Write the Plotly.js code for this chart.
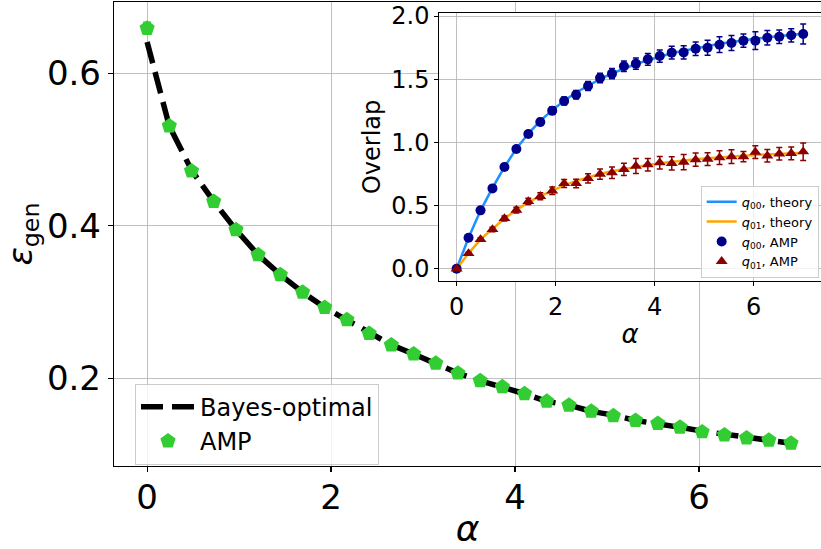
<!DOCTYPE html>
<html>
<head>
<meta charset="utf-8">
<script src="https://cdn.plot.ly/plotly-3.0.1.min.js"></script>
<style>html,body{margin:0;padding:0;background:#fff;}#chart{width:821px;height:549px;}</style>
</head>
<body>
<div id="chart"></div>
<script>
// ---------- data ----------
const alpha = [0, 0.241, 0.483, 0.724, 0.966, 1.207, 1.448, 1.69, 1.931, 2.172,
  2.414, 2.655, 2.897, 3.138, 3.379, 3.621, 3.862, 4.103, 4.345, 4.586,
  4.828, 5.069, 5.31, 5.552, 5.793, 6.034, 6.276, 6.517, 6.759, 7.0];

// main panel
const egenBayes = [0.641, 0.531, 0.473, 0.432, 0.395, 0.362, 0.336, 0.313, 0.293, 0.277,
  0.260, 0.244, 0.232, 0.220, 0.207, 0.197, 0.189, 0.180, 0.170, 0.165,
  0.157, 0.152, 0.145, 0.141, 0.136, 0.131, 0.127, 0.122, 0.119, 0.115];
const egenAMP = [0.659, 0.531, 0.472, 0.432, 0.395, 0.362, 0.336, 0.313, 0.293, 0.277,
  0.259, 0.244, 0.232, 0.220, 0.207, 0.197, 0.189, 0.180, 0.170, 0.165,
  0.157, 0.151, 0.145, 0.141, 0.136, 0.130, 0.126, 0.122, 0.119, 0.115];
const egenAMPerr = [0.008, 0.005, 0.005, 0.005, 0.004, 0.004, 0.004, 0.004, 0.004, 0.004,
  0.004, 0.004, 0.004, 0.004, 0.004, 0.004, 0.004, 0.004, 0.004, 0.004,
  0.004, 0.004, 0.004, 0.004, 0.004, 0.004, 0.004, 0.004, 0.004, 0.004];

// inset
const q00Theory = [0, 0.245, 0.46, 0.64, 0.805, 0.95, 1.07, 1.17, 1.255, 1.33,
  1.395, 1.45, 1.5, 1.545, 1.585, 1.62, 1.65, 1.68, 1.705, 1.725,
  1.745, 1.765, 1.78, 1.795, 1.81, 1.82, 1.832, 1.842, 1.852, 1.86];
const q01Theory = [0, 0.122, 0.232, 0.315, 0.398, 0.465, 0.525, 0.575, 0.62, 0.66,
  0.695, 0.725, 0.75, 0.772, 0.79, 0.807, 0.822, 0.835, 0.847, 0.857,
  0.866, 0.874, 0.882, 0.889, 0.895, 0.9, 0.905, 0.91, 0.914, 0.918];
const q00AMP = [0, 0.245, 0.462, 0.636, 0.805, 0.947, 1.066, 1.161, 1.251, 1.327,
  1.377, 1.446, 1.509, 1.544, 1.602, 1.623, 1.657, 1.683, 1.710, 1.712,
  1.741, 1.749, 1.773, 1.786, 1.805, 1.805, 1.828, 1.836, 1.847, 1.858];
const q00Err = [0.005, 0.01, 0.014, 0.018, 0.02, 0.022, 0.025, 0.028, 0.03, 0.032,
  0.034, 0.036, 0.038, 0.04, 0.042, 0.044, 0.046, 0.048, 0.05, 0.052,
  0.054, 0.059, 0.062, 0.059, 0.053, 0.07, 0.057, 0.053, 0.053, 0.079];
const q01AMP = [0, 0.121, 0.232, 0.311, 0.398, 0.464, 0.533, 0.573, 0.617, 0.675,
  0.675, 0.715, 0.749, 0.760, 0.786, 0.813, 0.823, 0.839, 0.834, 0.844,
  0.863, 0.868, 0.879, 0.887, 0.887, 0.923, 0.894, 0.910, 0.913, 0.926];
const q01Err = [0.005, 0.01, 0.014, 0.018, 0.02, 0.022, 0.025, 0.028, 0.03, 0.032,
  0.034, 0.036, 0.04, 0.045, 0.048, 0.06, 0.05, 0.05, 0.052, 0.06,
  0.052, 0.05, 0.055, 0.055, 0.04, 0.05, 0.05, 0.05, 0.05, 0.069];

const mainTicksX = [0, 2, 4, 6];
const mainTicksY = [0.2, 0.4, 0.6];
const mainTickTextY = ['0.2', '0.4', '0.6'];
const insetTicksX = [0, 2, 4, 6];
const insetTicksY = [0, 0.5, 1.0, 1.5, 2.0];
const insetTickTextY = ['0.0', '0.5', '1.0', '1.5', '2.0'];

// ---------- traces ----------
const FONT = 'DejaVu Sans, sans-serif';
const traces = [
  {x: alpha, y: egenBayes, type: 'scatter', mode: 'lines', name: 'Bayes-optimal',
   line: {color: '#000000', width: 5.5, dash: '22px,9px'}, xaxis: 'x', yaxis: 'y', legend: 'legend'},
  {x: alpha, y: egenAMP, type: 'scatter', mode: 'markers', name: 'AMP',
   marker: {symbol: 'pentagon', size: 16, color: '#32CD32'},
   error_y: {type: 'data', array: egenAMPerr, visible: true, color: '#32CD32', thickness: 1.5, width: 4},
   xaxis: 'x', yaxis: 'y', legend: 'legend'},
  {x: alpha, y: q00Theory, type: 'scatter', mode: 'lines', name: '<i>q</i><sub>00</sub>, theory',
   line: {color: '#1E90FF', width: 2.5}, xaxis: 'x2', yaxis: 'y2', legend: 'legend2'},
  {x: alpha, y: q01Theory, type: 'scatter', mode: 'lines', name: '<i>q</i><sub>01</sub>, theory',
   line: {color: '#FFA500', width: 2.5}, xaxis: 'x2', yaxis: 'y2', legend: 'legend2'},
  {x: alpha, y: q00AMP, type: 'scatter', mode: 'markers', name: '<i>q</i><sub>00</sub>, AMP',
   marker: {symbol: 'circle', size: 10, color: '#00008B'},
   error_y: {type: 'data', array: q00Err, visible: true, color: '#00008B', thickness: 1.5, width: 3},
   xaxis: 'x2', yaxis: 'y2', legend: 'legend2'},
  {x: alpha, y: q01AMP, type: 'scatter', mode: 'markers', name: '<i>q</i><sub>01</sub>, AMP',
   marker: {symbol: 'triangle-up', size: 10.5, color: '#8B0000'},
   error_y: {type: 'data', array: q01Err, visible: true, color: '#8B0000', thickness: 1.5, width: 3},
   xaxis: 'x2', yaxis: 'y2', legend: 'legend2'}
];

const axisCommon = {
  showgrid: true, gridcolor: '#b0b0b0', gridwidth: 0.8, zeroline: false,
  showline: true, linecolor: '#000000', linewidth: 1.2, mirror: true,
  ticks: 'outside', tickcolor: '#000000', ticklen: 5, tickwidth: 1.2,
  automargin: false
};

const layout = {
  width: 821, height: 549,
  margin: {l: 114, r: 0, t: 2, b: 83, pad: 0},
  paper_bgcolor: '#ffffff', plot_bgcolor: '#ffffff',
  font: {family: FONT, color: '#000000'},
  showlegend: true,
  xaxis: Object.assign({}, axisCommon, {
    domain: [0, 1], range: [-0.36, 7.326], tickmode: 'array', tickvals: mainTicksX,
    tickfont: {size: 34, family: FONT}, ticklabelstandoff: -4,
    title: {text: '<i>α</i>', font: {size: 36, family: FONT}, standoff: 4}
  }),
  yaxis: Object.assign({}, axisCommon, {
    domain: [0, 1], range: [0.0853, 0.6934], tickmode: 'array', tickvals: mainTicksY, ticktext: mainTickTextY,
    tickfont: {size: 34, family: FONT},
    title: {text: '<i>ε</i><sub>gen</sub>', font: {size: 34, family: FONT}, standoff: 7}
  }),
  xaxis2: Object.assign({}, axisCommon, {
    anchor: 'y2', domain: [0.4601, 1], range: [-0.35, 7.36], tickmode: 'array', tickvals: insetTicksX,
    ticklen: 4, linewidth: 1, tickwidth: 1,
    tickfont: {size: 24, family: FONT},
    title: {text: '<i>α</i>', font: {size: 26, family: FONT}, standoff: 4}
  }),
  yaxis2: Object.assign({}, axisCommon, {
    anchor: 'x2', domain: [0.3987, 0.9769], range: [-0.097, 2.026], tickmode: 'array',
    tickvals: insetTicksY, ticktext: insetTickTextY,
    ticklen: 4, linewidth: 1, tickwidth: 1,
    tickfont: {size: 24, family: FONT},
    title: {text: 'Overlap', font: {size: 24, family: FONT}, standoff: 3}
  }),
  legend: {
    x: 0.0297, y: 0.1775, xanchor: 'left', yanchor: 'top',
    bgcolor: 'rgba(255,255,255,0.8)', bordercolor: '#cccccc', borderwidth: 1,
    font: {size: 24, family: FONT}, itemwidth: 54, tracegroupgap: 0
  },
  legend2: {
    x: 0.8298, y: 0.6041, xanchor: 'left', yanchor: 'top',
    bgcolor: 'rgba(255,255,255,0.8)', bordercolor: '#cccccc', borderwidth: 1,
    font: {size: 13, family: FONT}, itemwidth: 30, tracegroupgap: 0
  }
};

Plotly.newPlot('chart', traces, layout, {displayModeBar: false, staticPlot: true});
</script>
</body>
</html>
